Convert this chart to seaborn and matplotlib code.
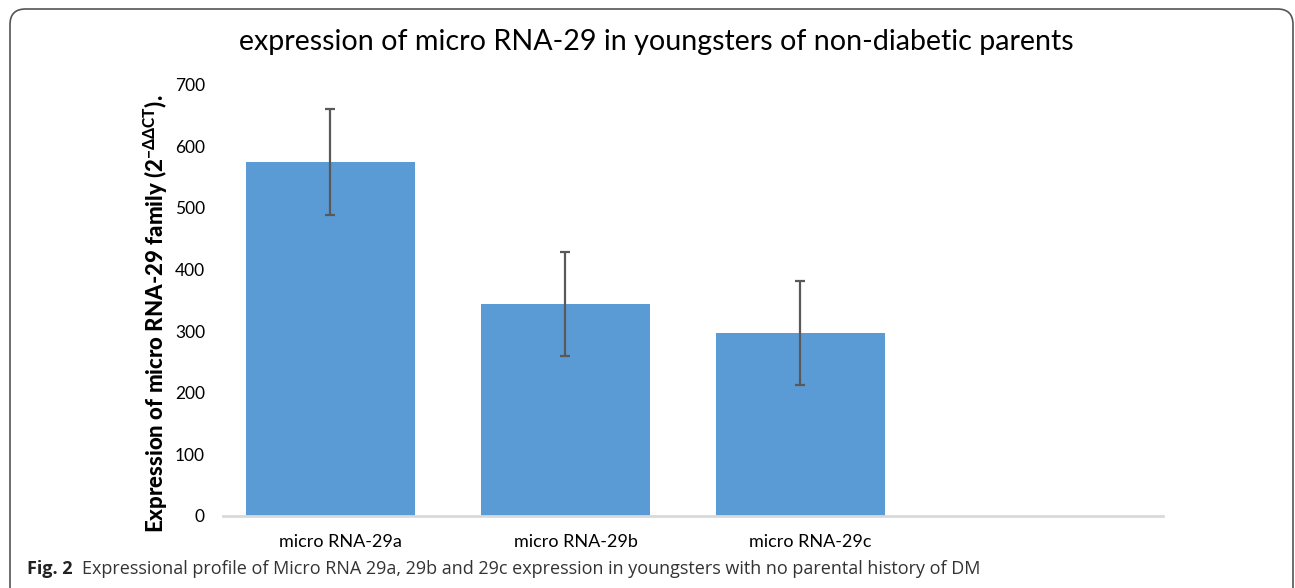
import matplotlib
matplotlib.use("Agg")
import matplotlib.pyplot as plt
from matplotlib.patches import FancyBboxPatch
import pandas as pd
import seaborn as sns

# data
categories = ["micro RNA-29a", "micro RNA-29b", "micro RNA-29c"]
expression = [574, 344, 297]
errors = [86, 85, 85]
yticks = [0, 100, 200, 300, 400, 500, 600, 700]

title = "expression of micro RNA-29 in youngsters of non-diabetic parents"
ylabel = r"Expression of micro RNA-29 family (2$^{\mathbf{-ΔΔCT}}$)."
caption_bold = "Fig. 2"
caption = "Expressional profile of Micro RNA 29a, 29b and 29c expression in youngsters with no parental history of DM"

sns.set_style("white")
plt.rcParams["font.family"] = ["Lato", "DejaVu Sans"]
plt.rcParams["mathtext.fontset"] = "custom"
plt.rcParams["mathtext.bf"] = "Lato:black"
plt.rcParams["mathtext.rm"] = "Lato"

df = pd.DataFrame({"miRNA": categories, "expr": expression})

fig = plt.figure(figsize=(12.95, 5.88), dpi=100)
ax = fig.add_axes([223 / 1295, 1 - 516 / 588, 940 / 1295, (516 - 84.8) / 588])

sns.barplot(data=df, x="miRNA", y="expr", order=categories, color="#5B9BD5",
            saturation=1, width=0.72, errorbar=None, ax=ax)

# excel draws the bars slightly left of the category centre
shift = 0.043
for p in ax.patches:
    p.set_x(p.get_x() - shift)
    p.set_edgecolor("none")
centers = [p.get_x() + p.get_width() / 2 for p in ax.patches]
ax.errorbar(centers, expression, yerr=errors, fmt="none", ecolor="#595959",
            elinewidth=1.6, capsize=3.8, capthick=1.6, zorder=3)

ax.set_xlim(-0.5, 3.5)
ax.set_ylim(0, 700)
ax.set_yticks(yticks)
ax.set_xlabel("")
ax.set_ylabel(ylabel, fontsize=16, fontweight="black", color="#000000")
ax.yaxis.set_label_coords(-0.056, 0.47)

for s in ["top", "right", "left"]:
    ax.spines[s].set_visible(False)
ax.spines["bottom"].set_color("#d9d9d9")
ax.spines["bottom"].set_linewidth(2)
ax.tick_params(axis="x", length=0, pad=13, labelsize=13, labelcolor="#000000")
ax.tick_params(axis="y", length=0, pad=13, labelsize=12.5, labelcolor="#000000")
ax.grid(False)

fig.text(656 / 1295, 1 - 42 / 588, title, ha="center", va="center",
         fontsize=20.6, color="#000000")

# caption below the chart
t1 = fig.text(27 / 1295, 1 - 569 / 588, caption_bold, ha="left", va="center",
              fontsize=13, fontweight="bold", color="#222222",
              family=["Open Sans", "DejaVu Sans"])
ax.annotate(caption, xy=(1, 0.5), xycoords=t1, xytext=(7, 0),
            textcoords="offset points", ha="left", va="center",
            fontsize=13, color="#333333", family=["Open Sans", "DejaVu Sans"],
            annotation_clip=False)

# rounded frame around the figure
frame = FancyBboxPatch((10 / 1295, -0.1), 1283 / 1295, 1.1 - 9 / 588,
                       boxstyle="round,pad=0,rounding_size=0.012",
                       transform=fig.transFigure, fill=False,
                       edgecolor="#555555", linewidth=1.2, mutation_aspect=1295 / 588)
fig.patches.append(frame)

fig.savefig("out.png", dpi=100)
